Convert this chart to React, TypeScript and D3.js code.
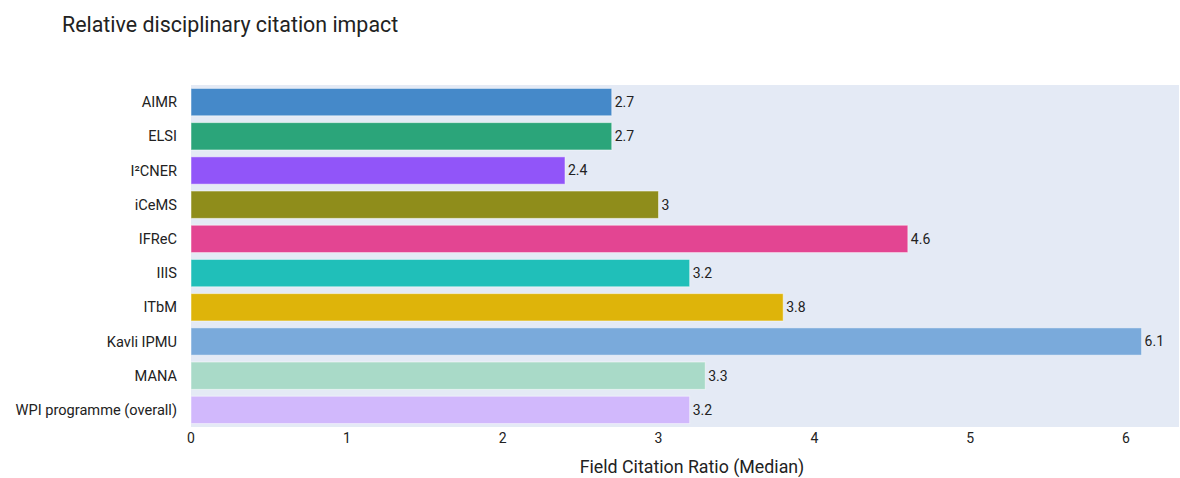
import React from "react";
import * as d3 from "d3";

const institutes = [
  "AIMR",
  "ELSI",
  "I²CNER",
  "iCeMS",
  "IFReC",
  "IIIS",
  "ITbM",
  "Kavli IPMU",
  "MANA",
  "WPI programme (overall)",
];
const medianFcr = [2.7, 2.7, 2.4, 3, 4.6, 3.2, 3.8, 6.1, 3.3, 3.2];
const barColors = [
  "#4589c9",
  "#2ba57a",
  "#9155f9",
  "#8f8d1b",
  "#e34592",
  "#20bfb9",
  "#deb40a",
  "#7aaadb",
  "#a9dac8",
  "#d1b8fc",
];
const xTicks = [0, 1, 2, 3, 4, 5, 6];

const W = 1180;
const H = 478;
const M = { left: 191, right: 1, top: 85, bottom: 51 };
const FONT = "Roboto, 'Noto Sans', sans-serif";

export default function App() {
  const x = d3
    .scaleLinear()
    .domain([0, 6.34])
    .range([M.left, W - M.right]);
  const y = d3
    .scaleBand<string>()
    .domain(institutes)
    .range([M.top, H - M.bottom])
    .paddingInner(0.2)
    .paddingOuter(0.1);

  return (
    <svg
      width={W}
      height={H}
      style={{ position: "absolute", left: 0, top: 0, fontFamily: FONT }}
    >
      <rect x={0} y={0} width={W} height={H} fill="#fff" />
      <text x={62} y={32} fontSize={21.4} fill="#222">
        Relative disciplinary citation impact
      </text>
      <rect
        x={M.left}
        y={M.top}
        width={W - M.right - M.left}
        height={H - M.bottom - M.top}
        fill="#e4eaf5"
      />
      {institutes.map((name, i) => {
        const v = medianFcr[i];
        const by = y(name)!;
        const bw = x(v) - x(0);
        return (
          <g key={name}>
            <rect
              x={x(0)}
              y={by}
              width={bw}
              height={y.bandwidth()}
              fill={barColors[i]}
              stroke="#ffffff"
              strokeOpacity={0.5}
              strokeWidth={1}
            />
            <text
              x={x(v) + 3}
              y={by + y.bandwidth() / 2}
              dy="0.35em"
              fontSize={14}
              fill="#222"
            >
              {d3.format("~g")(v)}
            </text>
            <text
              x={M.left - 14}
              y={by + y.bandwidth() / 2}
              dy="0.35em"
              textAnchor="end"
              fontSize={14.6}
              fill="#222"
            >
              {name}
            </text>
          </g>
        );
      })}
      {xTicks.map((t) => (
        <text
          key={t}
          x={x(t)}
          y={H - M.bottom + 16}
          textAnchor="middle"
          fontSize={14}
          fill="#222"
        >
          {t}
        </text>
      ))}
      <text
        x={(M.left + W - M.right) / 2 + 7}
        y={H - 5}
        textAnchor="middle"
        fontSize={17.8}
        fill="#222"
      >
        Field Citation Ratio (Median)
      </text>
    </svg>
  );
}
